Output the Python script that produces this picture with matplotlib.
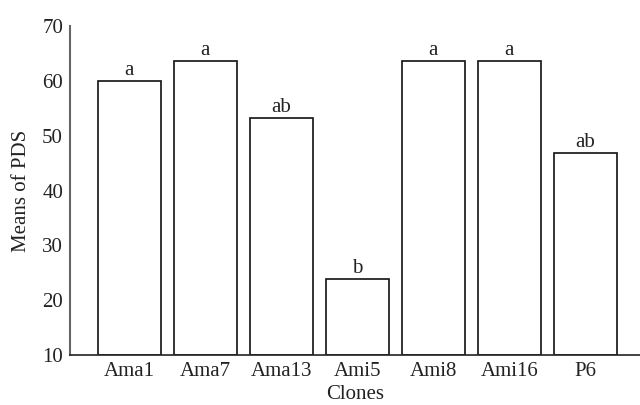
import matplotlib.pyplot as plt
import numpy as np

plt.rcParams['font.family'] = ['Liberation Serif', 'DejaVu Serif']

clones = ["Ama1", "Ama7", "Ama13", "Ami5", "Ami8", "Ami16", "P6"]
means = [60.0, 63.6, 53.2, 23.8, 63.6, 63.6, 46.8]
groups = ["a", "a", "ab", "b", "a", "a", "ab"]

fig = plt.figure(figsize=(6.4, 4.05), dpi=100)
ax = fig.add_axes([70 / 640, 50 / 405, 570 / 640, 329 / 405])

x = np.arange(len(clones))
bars = ax.bar(x, np.array(means) - 10, bottom=10, width=0.83,
              color="white", edgecolor="#111111", linewidth=1.2)
for rect, g in zip(bars, groups):
    ax.text(rect.get_x() + rect.get_width() / 2, rect.get_y() + rect.get_height() + 0.2,
            g, ha="center", va="bottom", fontsize=15, color="#222222")

ax.set_ylim(10, 70)
ax.set_xlim(-0.78, 6.72)
ax.set_yticks(range(10, 71, 10))
ax.set_xticks(x)
ax.set_xticklabels(clones)
ax.tick_params(length=0, labelsize=15, colors="#222222")
ax.tick_params(axis="y", pad=5)
ax.tick_params(axis="x", pad=5)

for s in ["top", "right"]:
    ax.spines[s].set_visible(False)
ax.spines["left"].set_color("#666666")
ax.spines["left"].set_linewidth(1.5)
ax.spines["bottom"].set_color("#222222")
ax.spines["bottom"].set_linewidth(1.2)

ax.set_ylabel("Means of PDS", fontsize=15, color="#222222", labelpad=8)
ax.set_xlabel("Clones", fontsize=15, color="#222222", labelpad=3)

plt.savefig("out.png")
